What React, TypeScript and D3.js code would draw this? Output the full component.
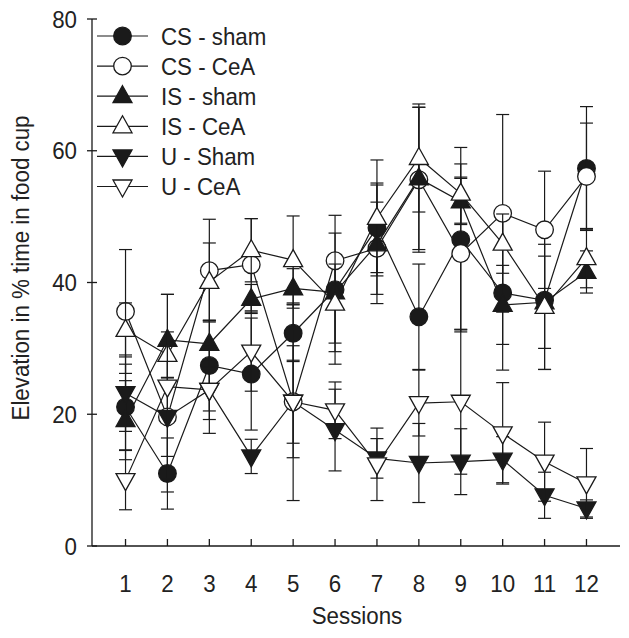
import React from "react";
import * as d3 from "d3";

const sessions = [1, 2, 3, 4, 5, 6, 7, 8, 9, 10, 11, 12];

const csSham = [21.1, 11.0, 27.4, 26.1, 32.3, 38.9, 48.3, 34.8, 46.5, 38.4, 37.3, 57.3];
const csShamErr = [6.5, 5.4, 6.9, 8.5, 4.3, 11.3, 6.8, 8, 14, 11.7, 10.5, 9.4];
const csCeA = [35.6, 19.6, 41.8, 42.7, 21.9, 43.3, 45.2, 55.6, 44.4, 50.5, 48.0, 56.1];
const csCeAErr = [9.4, 6, 7.8, 7, 6.3, 0.6, 7, 11, 11.6, 15, 8.9, 8.1];
const isSham = [19.1, 31.3, 30.7, 37.5, 39.1, 38.5, 45.8, 55.8, 52.3, 36.6, 37.0, 41.6];
const isShamErr = [6, 6.9, 3.5, 2.2, 3, 9, 9, 10.8, 3.5, 6, 7, 3.2];
const isCeA = [32.8, 29.0, 40.1, 44.9, 43.4, 36.8, 49.8, 58.9, 53.5, 45.9, 36.3, 43.7];
const isCeAErr = [4.1, 3.5, 5.9, 4.8, 6.7, 6, 8.8, 8.2, 4.5, 4.5, 9.5, 4.5];
const uSham = [23.2, 19.6, 23.7, 13.6, 21.9, 17.6, 13.3, 12.6, 12.8, 13.1, 7.7, 5.7];
const uShamErr = [5.8, 11.4, 4.5, 2.6, 15, 6.2, 3, 6, 5, 3.5, 3.5, 1.3];
const uCeA = [10.0, 24.2, 23.7, 29.5, 21.9, 20.6, 12.4, 21.7, 21.9, 17.1, 12.8, 9.5];
const uCeAErr = [4.5, 14, 6.6, 6, 8.5, 4.3, 5.5, 5, 11, 7.7, 6, 5.3];

const seriesNames = ["CS - sham", "CS - CeA", "IS - sham", "IS - CeA", "U - Sham", "U - CeA"];
const yTicks = [0, 20, 40, 60, 80];
const xLabel = "Sessions";
const yLabel = "Elevation in % time in food cup";

type Shape = "circle" | "up" | "down";
const shapes: Shape[] = ["circle", "circle", "up", "up", "down", "down"];
const fills = [true, false, true, false, true, false];
const valueSets = [csSham, csCeA, isSham, isCeA, uSham, uCeA];
const errSets = [csShamErr, csCeAErr, isShamErr, isCeAErr, uShamErr, uCeAErr];

const W = 629;
const H = 638;
const INK = "#1a1a1a";
const TXT = "#222";
const FONT = "'Liberation Sans', Arial, sans-serif";
const FS = 24;
const SX = 0.93;

const x = d3.scaleLinear().domain([0.2, 12.8]).range([92, 620]);
const y = d3.scaleLinear().domain([0, 80]).range([546, 19]);

function Label({
  tx,
  ty,
  rotate = 0,
  anchor = "start",
  dy = "0",
  children,
}: {
  tx: number;
  ty: number;
  rotate?: number;
  anchor?: "start" | "middle" | "end";
  dy?: string;
  children: React.ReactNode;
}) {
  return (
    <g transform={`translate(${tx},${ty}) rotate(${rotate}) scale(${SX},1)`}>
      <text x={0} y={0} dy={dy} textAnchor={anchor} fontFamily={FONT} fontSize={FS} fill={TXT}>
        {children}
      </text>
    </g>
  );
}

function Marker({ cx, cy, shape, filled }: { cx: number; cy: number; shape: Shape; filled: boolean }) {
  const fill = filled ? INK : "#fff";
  const common = { fill, stroke: INK, strokeWidth: 1.3 };
  if (shape === "circle") return <circle cx={cx} cy={cy} r={8.8} {...common} />;
  const hw = 9.5;
  if (shape === "up") {
    const p = `M${cx},${cy - 10.5}L${cx + hw},${cy + 6.5}L${cx - hw},${cy + 6.5}Z`;
    return <path d={p} {...common} />;
  }
  const p = `M${cx},${cy + 10.5}L${cx + hw},${cy - 6.5}L${cx - hw},${cy - 6.5}Z`;
  return <path d={p} {...common} />;
}

export default function App() {
  const series = seriesNames.map((name, i) => ({
    name,
    shape: shapes[i],
    filled: fills[i],
    pts: sessions.map((s, j) => ({ s, v: valueSets[i][j], e: errSets[i][j] })),
  }));
  const line = d3
    .line<{ s: number; v: number }>()
    .x((d) => x(d.s))
    .y((d) => y(d.v));
  const [y0, y1] = y.range();
  const [x0, x1] = x.range();
  const capHW = 6.5;

  return (
    <svg width={W} height={H} style={{ position: "absolute", left: 0, top: 0, background: "#fff" }}>
      <rect x={0} y={0} width={W} height={H} fill="#fff" />
      {/* axes */}
      <line x1={x0} x2={x0} y1={y0} y2={y1} stroke={INK} strokeWidth={1.3} />
      <line x1={x0} x2={x1} y1={y0} y2={y0} stroke={INK} strokeWidth={1.3} />
      {yTicks.map((t) => (
        <g key={"yt" + t}>
          <line x1={x0 - 5} x2={x0 + 5} y1={y(t)} y2={y(t)} stroke={INK} strokeWidth={1.3} />
          <Label tx={77} ty={y(t)} anchor="end" dy="0.36em">
            {t}
          </Label>
        </g>
      ))}
      {sessions.map((s) => (
        <g key={"xt" + s}>
          <line x1={x(s)} x2={x(s)} y1={y0} y2={y0 - 7} stroke={INK} strokeWidth={1.3} />
          <Label tx={x(s)} ty={592} anchor="middle">
            {s}
          </Label>
        </g>
      ))}
      <Label tx={357} ty={624} anchor="middle">
        {xLabel}
      </Label>
      <Label tx={29} ty={268} rotate={-90} anchor="middle">
        {yLabel}
      </Label>

      {/* connecting lines */}
      {series.map((sr) => (
        <path key={"l" + sr.name} d={line(sr.pts) || ""} fill="none" stroke={INK} strokeWidth={1.2} />
      ))}

      {/* error bars and markers */}
      {series.map((sr) => (
        <g key={"m" + sr.name}>
          {sr.pts.map((p) => {
            const cx = x(p.s);
            const ta = y(p.v + p.e);
            const tb = y(p.v - p.e);
            return (
              <g key={"e" + p.s}>
                <line x1={cx} x2={cx} y1={ta} y2={tb} stroke={INK} strokeWidth={1.2} />
                <line x1={cx - capHW} x2={cx + capHW} y1={ta} y2={ta} stroke={INK} strokeWidth={1.2} />
                <line x1={cx - capHW} x2={cx + capHW} y1={tb} y2={tb} stroke={INK} strokeWidth={1.2} />
              </g>
            );
          })}
          {sr.pts.map((p) => (
            <Marker key={"p" + p.s} cx={x(p.s)} cy={y(p.v)} shape={sr.shape} filled={sr.filled} />
          ))}
        </g>
      ))}

      {/* legend */}
      {series.map((sr, i) => {
        const ly = 36 + i * 30.1;
        return (
          <g key={"lg" + sr.name}>
            <line x1={97} x2={148} y1={ly} y2={ly} stroke={INK} strokeWidth={1.2} />
            <Marker cx={122.5} cy={ly} shape={sr.shape} filled={sr.filled} />
            <Label tx={161} ty={ly} dy="0.36em">
              {sr.name}
            </Label>
          </g>
        );
      })}
    </svg>
  );
}
